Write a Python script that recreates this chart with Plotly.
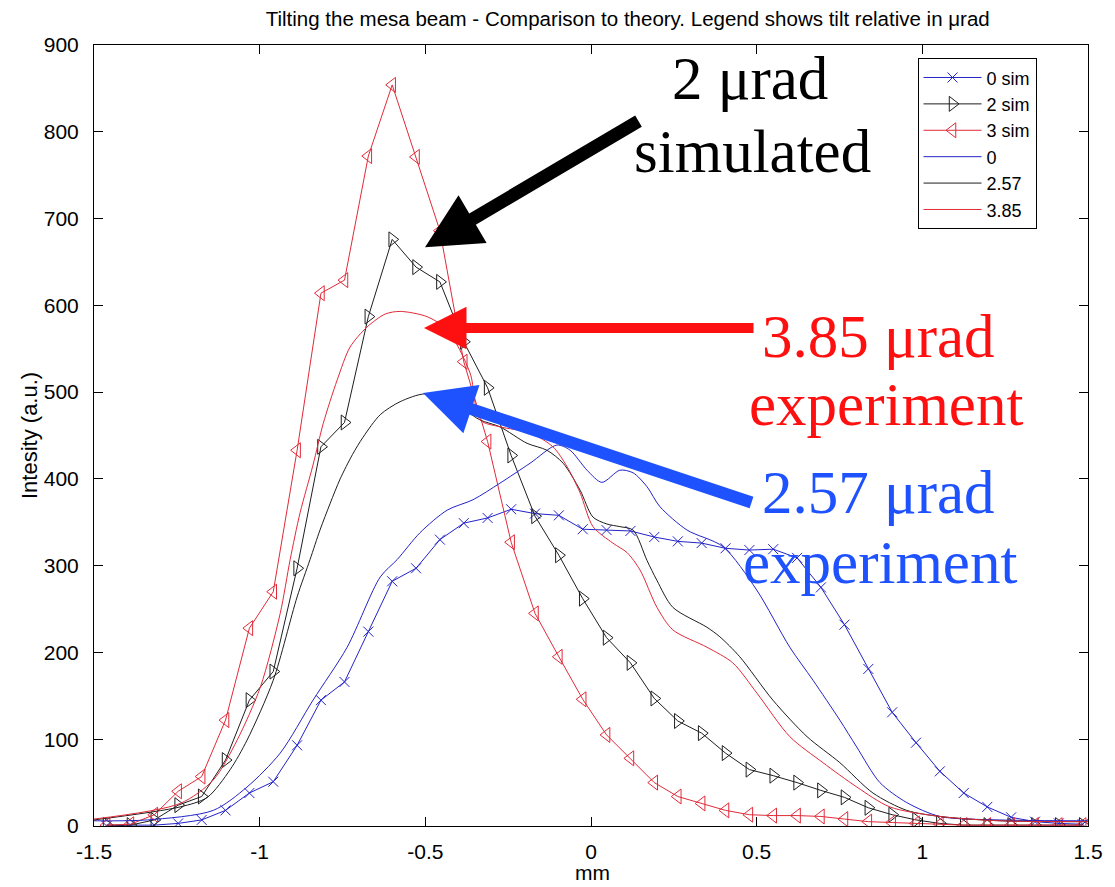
import plotly.graph_objects as go

# Beam profile positions of the simulated samples (mm)
sim_x = [-1.462, -1.390, -1.318, -1.246, -1.175, -1.103, -1.031, -0.959, -0.887, -0.815,
         -0.744, -0.672, -0.600, -0.528, -0.456, -0.384, -0.312, -0.241, -0.169, -0.097,
         -0.025, 0.047, 0.119, 0.191, 0.262, 0.334, 0.406, 0.478, 0.550, 0.622,
         0.694, 0.765, 0.837, 0.909, 0.981, 1.053, 1.125, 1.196, 1.268, 1.340,
         1.412, 1.484]

sim_0 = [0, 1, 1, 3, 7, 18, 38, 51, 93, 145,
         166, 224, 282, 297, 330, 349, 355, 365, 360, 358,
         342, 341, 340, 333, 328, 326, 320, 318, 319, 309,
         275, 232, 181, 131, 96, 63, 38, 22, 10, 5,
         3, 2]

sim_2 = [1, 1, 7, 24, 34, 76, 145, 178, 297, 437,
         465, 587, 676, 644, 627, 558, 505, 427, 357, 312,
         262, 217, 188, 147, 121, 107, 84, 65, 58, 50,
         41, 33, 21, 13, 7, 3, 1, 1, 1, 1,
         1, 1]

sim_3 = [1, 2, 13, 40, 57, 122, 228, 270, 433, 614,
         629, 772, 854, 771, 686, 535, 443, 327, 245, 195,
         146, 105, 78, 50, 34, 26, 18, 13, 12, 12,
         11, 8, 5, 4, 3, 2, 1, 1, 1, 1,
         1, 1]

# Measured profiles
exp0_x = [-1.5, -1.339, -1.140, -1.038, -0.938, -0.839, -0.736, -0.636, -0.585, -0.516,
          -0.434, -0.356, -0.275, -0.184, -0.103, -0.063, -0.012, 0.033, 0.087, 0.127,
          0.169, 0.208, 0.290, 0.398, 0.500, 0.600, 0.670, 0.751, 0.802, 0.872,
          0.953, 1.053, 1.234, 1.5]
exp0_y = [6, 7, 18, 45, 84, 145, 206, 287, 307, 338,
          364, 376, 395, 418, 439, 433, 410, 396, 410, 407,
          391, 368, 341, 322, 272, 206, 168, 122, 91, 50,
          27, 11, 7, 6]

exp257_x = [-1.5, -1.240, -1.158, -1.089, -1.038, -0.959, -0.887, -0.848, -0.818, -0.787,
            -0.757, -0.720, -0.688, -0.636, -0.576, -0.501, -0.425, -0.335, -0.275, -0.193,
            -0.133, -0.084, -0.033, 0.006, 0.048, 0.087, 0.127, 0.169, 0.199, 0.247,
            0.350, 0.389, 0.449, 0.549, 0.652, 0.751, 0.851, 0.953, 1.053, 1.234,
            1.5]
exp257_y = [7, 22, 33, 65, 99, 168, 264, 307, 341, 372,
            400, 428, 448, 474, 489, 498, 490, 468, 460, 441,
            433, 418, 387, 356, 348, 345, 341, 306, 283, 252,
            229, 218, 195, 145, 103, 73, 38, 18, 11, 6,
            5]

exp385_x = [-1.5, -1.240, -1.140, -1.068, -0.998, -0.938, -0.908, -0.878, -0.839, -0.808,
            -0.766, -0.727, -0.676, -0.621, -0.576, -0.495, -0.434, -0.365, -0.335, -0.275,
            -0.184, -0.115, -0.072, -0.033, 0.006, 0.066, 0.109, 0.148, 0.199, 0.247,
            0.350, 0.428, 0.501, 0.600, 0.700, 0.802, 0.902, 1.053, 1.234, 1.5]
exp385_y = [8, 26, 53, 99, 160, 245, 307, 361, 416, 464,
            514, 552, 575, 590, 593, 587, 572, 522, 468, 460,
            453, 437, 414, 384, 345, 326, 315, 295, 252, 226,
            206, 188, 153, 103, 73, 45, 22, 11, 6, 5]

x_tick_vals = [-1.5, -1, -0.5, 0, 0.5, 1, 1.5]
x_tick_text = ["-1.5", "-1", "-0.5", "0", "0.5", "1", "1.5"]
y_tick_vals = [0, 100, 200, 300, 400, 500, 600, 700, 800, 900]
y_tick_text = ["0", "100", "200", "300", "400", "500", "600", "700", "800", "900"]

BLUE = "#2323C8"
BLACK = "#1E1E1E"
RED = "#E02A38"

fig = go.Figure()

fig.add_trace(go.Scatter(
    x=sim_x, y=sim_0, name="0 sim", mode="lines+markers",
    line=dict(color=BLUE, width=1),
    marker=dict(symbol="x-thin-open", size=10, color=BLUE, line=dict(color=BLUE, width=1))))
fig.add_trace(go.Scatter(
    x=sim_x, y=sim_2, name="2 sim", mode="lines+markers",
    line=dict(color=BLACK, width=1),
    marker=dict(symbol="triangle-right-open", size=13, color=BLACK, line=dict(color=BLACK, width=1))))
fig.add_trace(go.Scatter(
    x=sim_x, y=sim_3, name="3 sim", mode="lines+markers",
    line=dict(color=RED, width=1),
    marker=dict(symbol="triangle-left-open", size=13, color=RED, line=dict(color=RED, width=1))))
fig.add_trace(go.Scatter(
    x=exp0_x, y=exp0_y, name="0", mode="lines",
    line=dict(color=BLUE, width=1, shape="spline", smoothing=0.8)))
fig.add_trace(go.Scatter(
    x=exp257_x, y=exp257_y, name="2.57", mode="lines",
    line=dict(color=BLACK, width=1, shape="spline", smoothing=0.8)))
fig.add_trace(go.Scatter(
    x=exp385_x, y=exp385_y, name="3.85", mode="lines",
    line=dict(color=RED, width=1, shape="spline", smoothing=0.8)))

SANS = "Liberation Sans, Arial"
SERIF = "Liberation Serif, Times New Roman, serif"

axis_common = dict(
    showgrid=False, zeroline=False, showline=True, linecolor="black", linewidth=1,
    mirror="ticks", ticks="inside", ticklen=9, tickcolor="black", tickwidth=1,
    tickfont=dict(family=SANS, size=21, color="black"), automargin=False,
)

fig.update_layout(
    width=1115, height=887,
    margin=dict(l=94, r=27, t=45, b=61),
    paper_bgcolor="white", plot_bgcolor="white",
    title=dict(text="Tilting the mesa beam - Comparison to theory. Legend shows tilt relative in \u03bcrad",
               xref="container", x=0.563, xanchor="center", y=0.979, yanchor="middle",
               font=dict(family=SANS, size=20.5, color="black")),
    xaxis=dict(range=[-1.5, 1.5], tickvals=x_tick_vals, ticktext=x_tick_text,
               ticklabelstandoff=7, **axis_common),
    yaxis=dict(range=[0, 900], tickvals=y_tick_vals, ticktext=y_tick_text,
               ticklabelstandoff=10, **axis_common),
    legend=dict(x=0.8285, y=0.983, xanchor="left", yanchor="top",
                bgcolor="white", bordercolor="black", borderwidth=1,
                font=dict(family=SANS, size=18, color="black"),
                itemwidth=58, tracegroupgap=0),
    showlegend=True,
)

def px_to_paper(px, py):
    return (px - 94) / 994.0, (826 - py) / 781.0

# Axis titles
xp, yp = px_to_paper(592, 886)
fig.add_annotation(text="mm", x=xp, y=yp, xref="paper", yref="paper",
                   xanchor="center", yanchor="bottom", showarrow=False,
                   font=dict(family=SANS, size=21, color="black"))
xp, yp = px_to_paper(30, 436)
fig.add_annotation(text="Intesity (a.u.)", x=xp, y=yp, xref="paper", yref="paper",
                   xanchor="center", yanchor="middle", showarrow=False, textangle=-90,
                   font=dict(family=SANS, size=22, color="black"))

labels = [
    ("2 \u03bcrad", 750, 79, "black"),
    ("simulated", 752, 151, "black"),
    ("3.85 \u03bcrad", 878, 336, "#FF1010"),
    ("experiment", 886, 404, "#FF1010"),
    ("2.57 \u03bcrad", 878, 493, "#1F52FF"),
    ("experiment", 880, 562, "#1F52FF"),
]
for text, px, py, col in labels:
    xp, yp = px_to_paper(px, py)
    fig.add_annotation(text=text, x=xp, y=yp, xref="paper", yref="paper",
                       xanchor="center", yanchor="middle", showarrow=False,
                       font=dict(family=SERIF, size=61, color=col))

# Pointer arrows (tip in data coordinates, tail offset in pixels)
arrows = [
    (-0.501, 667, 215, -127, "black", 13),
    (-0.504, 574, 331, 0, "#FF1010", 10),
    (-0.507, 499, 330, 110, "#1F52FF", 12),
]
for xt, yt, ax, ay, col, w in arrows:
    fig.add_annotation(x=xt, y=yt, xref="x", yref="y", ax=ax, ay=ay,
                       axref="pixel", ayref="pixel", text="", showarrow=True,
                       arrowhead=2, arrowsize=0.85, arrowwidth=w, arrowcolor=col,
                       standoff=0)

fig.write_html("out.html")
